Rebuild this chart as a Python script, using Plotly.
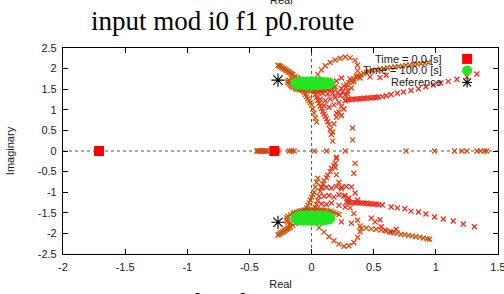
import plotly.graph_objects as go

# ---------------- text / ticks ----------------
title_text = "input mod i0 f1 p0.route"
x_label = "Real"
y_label = "Imaginary"
legend_labels = ["Time = 0.0 [s]", "Time = 100.0 [s]", "Reference"]

x_ticks = [-2, -1.5, -1, -0.5, 0, 0.5, 1, 1.5]
x_tick_labels = ["-2", "-1.5", "-1", "-0.5", "0", "0.5", "1", "1.5"]
y_ticks = [2.5, 2, 1.5, 1, 0.5, 0, -0.5, -1, -1.5, -2, -2.5]
y_tick_labels = ["2.5", "2", "1.5", "1", "0.5", "0", "-0.5", "-1", "-1.5", "-2", "-2.5"]

# ---------------- locus branches ----------------
u_line_x = [0.28, 0.30, 0.32, 0.34, 0.36, 0.38, 0.40, 0.42, 0.44, 0.46, 0.48, 0.50, 0.52, 0.54, 0.57, 0.60, 0.64, 0.69, 0.74, 0.80, 0.86, 0.92, 0.98, 1.04, 1.10, 1.17, 1.25, 1.33]
u_line_y = [1.24, 1.25, 1.25, 1.26, 1.26, 1.27, 1.27, 1.28, 1.28, 1.29, 1.29, 1.30, 1.30, 1.31, 1.32, 1.34, 1.37, 1.40, 1.43, 1.47, 1.51, 1.56, 1.61, 1.65, 1.69, 1.74, 1.80, 1.87]
l_line_x = [0.28, 0.30, 0.32, 0.34, 0.36, 0.38, 0.40, 0.42, 0.44, 0.46, 0.48, 0.50, 0.52, 0.54, 0.57, 0.64, 0.69, 0.75, 0.80, 0.86, 0.92, 0.99, 1.06, 1.14, 1.22, 1.31]
l_line_y = [-1.24, -1.24, -1.25, -1.25, -1.26, -1.26, -1.26, -1.27, -1.27, -1.28, -1.28, -1.29, -1.29, -1.30, -1.31, -1.36, -1.38, -1.40, -1.46, -1.48, -1.53, -1.60, -1.65, -1.70, -1.77, -1.84]

u_red_x = [0.14, 0.20, 0.24, 0.31, 0.39, 0.47, 0.55, 0.60]
u_red_y = [1.72, 1.70, 1.77, 1.75, 1.77, 1.80, 1.78, 1.84]
l_red_x = [0.24, 0.32, 0.48, 0.51, 0.55, 0.56, 0.59, 0.64, 0.68]
l_red_y = [-1.72, -1.75, -1.63, -1.72, -1.67, -1.84, -1.92, -1.97, -1.90]

u_brown_x = [0.26, 0.28, 0.30, 0.32, 0.34, 0.36, 0.38, 0.40, 0.42, 0.44, 0.46, 0.49, 0.52, 0.55, 0.58, 0.61, 0.64, 0.67, 0.70, 0.73, 0.76, 0.79, 0.82, 0.85, 0.88, 0.91, 0.94]
u_brown_y = [1.58, 1.62, 1.66, 1.70, 1.74, 1.78, 1.82, 1.85, 1.88, 1.91, 1.93, 1.96, 1.97, 1.99, 2.00, 2.02, 2.03, 2.04, 2.05, 2.06, 2.08, 2.09, 2.10, 2.11, 2.12, 2.13, 2.15]
l_brown_x = [0.40, 0.44, 0.48, 0.52, 0.56, 0.60, 0.63, 0.66, 0.69, 0.72, 0.75, 0.78, 0.81, 0.84, 0.87, 0.90, 0.93, 0.95]
l_brown_y = [-1.88, -1.87, -1.89, -1.90, -1.92, -1.94, -1.96, -1.98, -2.00, -2.02, -2.03, -2.05, -2.06, -2.08, -2.09, -2.11, -2.13, -2.14]

u_loop_x = [0.05, 0.08, 0.11, 0.15, 0.19, 0.23, 0.27, 0.31, 0.35, 0.37, 0.37, 0.36, 0.34, 0.32, 0.29, 0.27, 0.24, 0.22, 0.20, 0.18, 0.17, 0.17]
u_loop_y = [1.86, 1.97, 2.07, 2.15, 2.21, 2.25, 2.28, 2.26, 2.20, 2.08, 1.95, 1.82, 1.68, 1.53, 1.38, 1.22, 1.08, 0.95, 0.82, 0.66, 0.46, 0.24]
l_loop_x = [0.06, 0.10, 0.14, 0.18, 0.22, 0.26, 0.30, 0.34, 0.37, 0.39, 0.39, 0.37, 0.34, 0.31, 0.29, 0.27, 0.24, 0.22, 0.20, 0.19, 0.20]
l_loop_y = [-1.86, -1.97, -2.08, -2.18, -2.26, -2.31, -2.30, -2.22, -2.10, -1.96, -1.82, -1.68, -1.52, -1.38, -1.22, -1.08, -0.92, -0.76, -0.58, -0.40, -0.18]

u_down_x = [0.02, 0.03, 0.04, 0.05, 0.06, 0.07, 0.08, 0.09, 0.10, 0.11, 0.12, 0.13, 0.14, 0.15, 0.16]
u_down_y = [1.44, 1.37, 1.30, 1.23, 1.16, 1.09, 1.03, 0.96, 0.90, 0.84, 0.78, 0.71, 0.64, 0.52, 0.40]
l_down_x = [0.02, 0.03, 0.04, 0.05, 0.06, 0.07, 0.08, 0.09, 0.10, 0.12, 0.13, 0.15, 0.16, 0.18, 0.19, 0.20]
l_down_y = [-1.44, -1.37, -1.30, -1.20, -1.10, -0.98, -0.87, -0.80, -0.72, -0.65, -0.58, -0.50, -0.42, -0.36, -0.30, -0.15]

u_bdown_x = [-0.08, -0.07, -0.06, -0.05, -0.04, -0.03, -0.02, -0.01, 0.00, 0.01, 0.02, 0.03, 0.04]
u_bdown_y = [1.52, 1.47, 1.42, 1.37, 1.32, 1.27, 1.22, 1.17, 1.12, 1.02, 0.92, 0.80, 0.70]
l_bdown_x = [-0.06, -0.05, -0.04, -0.03, -0.02, -0.01, 0.00, 0.01, 0.02, 0.03, 0.04, 0.05]
l_bdown_y = [-1.50, -1.44, -1.38, -1.32, -1.26, -1.19, -1.12, -1.06, -1.00, -0.88, -0.76, -0.66]

u_arm_x = [-0.27, -0.26, -0.25, -0.24, -0.23, -0.22, -0.21, -0.20, -0.19, -0.18, -0.17, -0.16, -0.15, -0.13, -0.11, -0.09]
u_arm_y = [2.08, 2.07, 2.05, 2.03, 2.01, 1.99, 1.97, 1.95, 1.93, 1.91, 1.89, 1.87, 1.85, 1.81, 1.77, 1.74]
l_arm_x = [-0.27, -0.26, -0.25, -0.24, -0.23, -0.22, -0.21, -0.20, -0.19, -0.18, -0.17, -0.15, -0.13]
l_arm_y = [-2.04, -2.02, -2.00, -1.98, -1.96, -1.94, -1.92, -1.90, -1.88, -1.86, -1.84, -1.80, -1.76]

u_ring_x = [-0.19, -0.18, -0.17, -0.16, -0.15, -0.13, -0.12, -0.10, -0.08, -0.06, -0.04, -0.02, 0.00, 0.02, 0.04, 0.06, 0.08, 0.10, 0.12, 0.14, 0.16, 0.18, 0.19, -0.19, -0.18, -0.16]
u_ring_y = [1.66, 1.63, 1.60, 1.57, 1.54, 1.52, 1.50, 1.49, 1.48, 1.48, 1.47, 1.47, 1.46, 1.46, 1.46, 1.46, 1.47, 1.48, 1.49, 1.50, 1.52, 1.54, 1.56, 1.70, 1.72, 1.76]
l_ring_x = [-0.20, -0.19, -0.17, -0.15, -0.14, -0.12, -0.10, -0.08, -0.06, -0.04, -0.02, 0.00, 0.02, 0.04, 0.06, 0.08, 0.10, 0.12, 0.14, 0.16, 0.18, 0.20, 0.22, -0.20, -0.19, -0.17]
l_ring_y = [-1.62, -1.58, -1.55, -1.52, -1.50, -1.48, -1.46, -1.45, -1.44, -1.44, -1.43, -1.43, -1.43, -1.43, -1.43, -1.43, -1.44, -1.45, -1.46, -1.47, -1.49, -1.52, -1.54, -1.70, -1.73, -1.76]

u_mass_x = [0.05, 0.09, 0.13, 0.17, 0.21, 0.25, 0.29, 0.07, 0.11, 0.15, 0.19, 0.23, 0.27, 0.10, 0.14, 0.18, 0.22, 0.26, 0.20, 0.24, 0.08, 0.12, 0.16, 0.24, 0.28]
u_mass_y = [1.42, 1.40, 1.38, 1.40, 1.42, 1.44, 1.46, 1.26, 1.22, 1.26, 1.30, 1.34, 1.36, 1.10, 1.06, 1.12, 1.18, 1.02, 0.92, 0.86, 1.50, 1.52, 1.50, 1.52, 1.55]
l_mass_x = [0.08, 0.12, 0.16, 0.20, 0.24, 0.28, 0.32, 0.10, 0.14, 0.18, 0.22, 0.26, 0.30, 0.35, 0.37, 0.08, 0.12, 0.16, 0.22, 0.27]
l_mass_y = [-0.90, -0.88, -0.90, -0.86, -0.88, -0.86, -0.87, -1.10, -1.08, -1.12, -1.06, -1.10, -1.14, -1.02, -1.19, -1.28, -1.30, -1.26, -1.32, -1.36]

iso_x = [0.33, 0.33, 0.35, 0.34]
iso_y = [0.56, 0.27, -0.30, -0.54]

axis_x = [-0.44, -0.43, -0.42, -0.41, -0.40, -0.39, -0.38, -0.37, -0.36, -0.27, -0.18, -0.16, -0.14, 0.02, 0.12, 0.27, 0.76, 0.99, 1.15, 1.21, 1.25, 1.33, 1.36, 1.39, 1.41]
axis_y = [0.0, 0.0, 0.0, 0.0, 0.0, 0.0, 0.0, 0.0, 0.0, 0.0, 0.0, 0.0, 0.0, 0.0, 0.0, 0.0, 0.0, 0.0, 0.0, 0.0, 0.0, 0.0, 0.0, 0.0, 0.0]

# ---------------- special points ----------------
t0_x = [-1.71, -0.30]
t0_y = [0.0, 0.0]
t100_x = [-0.13, -0.12, -0.10, -0.07, -0.04, 0.00, 0.04, 0.08, 0.11, 0.14, 0.15, 0.14, 0.11, 0.08, 0.04, 0.00, -0.04, -0.07, -0.10, -0.12,
          -0.13, -0.12, -0.10, -0.07, -0.04, 0.00, 0.04, 0.08, 0.11, 0.14, 0.15, 0.14, 0.11, 0.08, 0.04, 0.00, -0.04, -0.07, -0.10, -0.12]
t100_y = [1.64, 1.66, 1.67, 1.68, 1.685, 1.69, 1.685, 1.68, 1.67, 1.66, 1.64, 1.62, 1.61, 1.60, 1.595, 1.59, 1.595, 1.60, 1.61, 1.62,
          -1.63, -1.60, -1.58, -1.57, -1.565, -1.56, -1.565, -1.57, -1.58, -1.60, -1.63, -1.66, -1.68, -1.69, -1.695, -1.70, -1.695, -1.69, -1.68, -1.66]
ref_x = [-0.27, -0.27]
ref_y = [1.72, -1.73]

RED = "#f22a1c"
RED2 = "#e63c16"
ORANGE = "#d84a10"
BROWN = "#c8560a"

branches = [
    (u_ring_x, u_ring_y, BROWN), (l_ring_x, l_ring_y, BROWN),
    (u_arm_x, u_arm_y, BROWN), (l_arm_x, l_arm_y, BROWN),
    (u_bdown_x, u_bdown_y, BROWN), (l_bdown_x, l_bdown_y, BROWN),
    (u_loop_x, u_loop_y, ORANGE), (l_loop_x, l_loop_y, ORANGE),
    (u_brown_x, u_brown_y, BROWN), (l_brown_x, l_brown_y, BROWN),
    (u_mass_x, u_mass_y, RED), (l_mass_x, l_mass_y, RED),
    (u_down_x, u_down_y, RED2), (l_down_x, l_down_y, RED2),
    (u_red_x, u_red_y, RED), (l_red_x, l_red_y, RED),
    (u_line_x, u_line_y, RED), (l_line_x, l_line_y, RED),
    (iso_x, iso_y, ORANGE), (axis_x, axis_y, ORANGE),
]

fig = go.Figure()
for bx, by, col in branches:
    fig.add_trace(go.Scatter(x=bx, y=by, mode="markers", showlegend=False, hoverinfo="skip",
                             marker=dict(symbol="x-thin", size=5, color=col,
                                         line=dict(width=1.3, color=col))))

fig.add_trace(go.Scatter(x=t0_x, y=t0_y, mode="markers", showlegend=False,
                         marker=dict(symbol="square", size=10, color="#ff0000", line=dict(width=0))))
fig.add_trace(go.Scatter(x=t100_x, y=t100_y, mode="markers", showlegend=False,
                         marker=dict(symbol="circle", size=10, color="#22e622", line=dict(width=0))))
fig.add_trace(go.Scatter(x=ref_x, y=ref_y, mode="markers", showlegend=False,
                         marker=dict(symbol="asterisk-open", size=11, color="#000000",
                                     line=dict(width=1.1, color="#000000"))))

# ---------------- custom gnuplot-style key (paper coords) ----------------
key_text_x = 0.877
key_sym_x = 0.929
key_rows_y = [0.947, 0.891, 0.833]
for lab, yy in zip(legend_labels, key_rows_y):
    fig.add_annotation(text=lab, xref="paper", yref="paper", x=key_text_x, y=yy,
                       xanchor="right", yanchor="middle", showarrow=False,
                       font=dict(family="Liberation Sans, Arial", size=11, color="#1a1a1a"))
# square
fig.add_shape(type="rect", xref="paper", yref="paper", xsizemode="pixel", ysizemode="pixel",
              xanchor=key_sym_x, yanchor=key_rows_y[0], x0=-5, x1=5, y0=-5, y1=5,
              fillcolor="#ff0000", line=dict(width=0))
# circle
fig.add_shape(type="circle", xref="paper", yref="paper", xsizemode="pixel", ysizemode="pixel",
              xanchor=key_sym_x, yanchor=key_rows_y[1], x0=-5, x1=5, y0=-5, y1=5,
              fillcolor="#22e622", line=dict(width=0))
# asterisk
for (ax0, ay0, ax1, ay1) in [(-5, 0, 5, 0), (0, -5, 0, 5), (-4, -4, 4, 4), (-4, 4, 4, -4)]:
    fig.add_shape(type="line", xref="paper", yref="paper", xsizemode="pixel", ysizemode="pixel",
                  xanchor=key_sym_x, yanchor=key_rows_y[2], x0=ax0, x1=ax1, y0=ay0, y1=ay1,
                  line=dict(width=1.1, color="#000000"))

# dotted zero axes
fig.add_shape(type="line", xref="x", yref="paper", x0=0, x1=0, y0=0, y1=1,
              line=dict(color="#555555", width=1, dash="dot"), layer="below")
fig.add_shape(type="line", xref="paper", yref="y", x0=0, x1=1, y0=0, y1=0,
              line=dict(color="#555555", width=1, dash="dot"), layer="below")

# titles (including the neighbouring panels' cut-off texts)
fig.add_annotation(text=title_text, xref="paper", yref="paper", x=0.366, y=1.131,
                   xanchor="center", yanchor="middle", showarrow=False,
                   font=dict(family="Liberation Serif, Times New Roman", size=27, color="#000000"))
fig.add_annotation(text=title_text, xref="paper", yref="paper", x=0.366, y=-0.237,
                   xanchor="center", yanchor="middle", showarrow=False,
                   font=dict(family="Liberation Serif, Times New Roman", size=27, color="#000000"))
fig.add_annotation(text=x_label, xref="paper", yref="paper", x=0.502, y=1.232,
                   xanchor="center", yanchor="middle", showarrow=False,
                   font=dict(family="Liberation Sans, Arial", size=11, color="#1a1a1a"))

axis_font = dict(family="Liberation Sans, Arial", size=11, color="#1a1a1a")
fig.update_layout(
    width=504, height=294,
    margin=dict(l=63, r=6, t=48, b=40, autoexpand=False),
    paper_bgcolor="white", plot_bgcolor="white",
    showlegend=False,
    xaxis=dict(range=[-2, 1.5], tickvals=x_ticks, ticktext=x_tick_labels, automargin=False,
               ticks="inside", ticklen=5, tickcolor="#000", showgrid=False, zeroline=False,
               showline=True, linecolor="#000", linewidth=1.2, mirror="ticks",
               tickfont=axis_font, ticklabelstandoff=3, ticklabeloverflow="allow",
               title=dict(text=x_label, font=axis_font, standoff=8)),
    yaxis=dict(range=[-2.5, 2.5], tickvals=y_ticks, ticktext=y_tick_labels, automargin=False,
               ticks="inside", ticklen=5, tickcolor="#000", showgrid=False, zeroline=False,
               showline=True, linecolor="#000", linewidth=1.2, mirror="ticks",
               tickfont=axis_font, ticklabelstandoff=3, ticklabeloverflow="allow",
               title=dict(text=y_label, font=axis_font, standoff=20)),
)

fig.write_html("out.html", config={"displayModeBar": False},
               post_script="document.body.style.margin='0';")
